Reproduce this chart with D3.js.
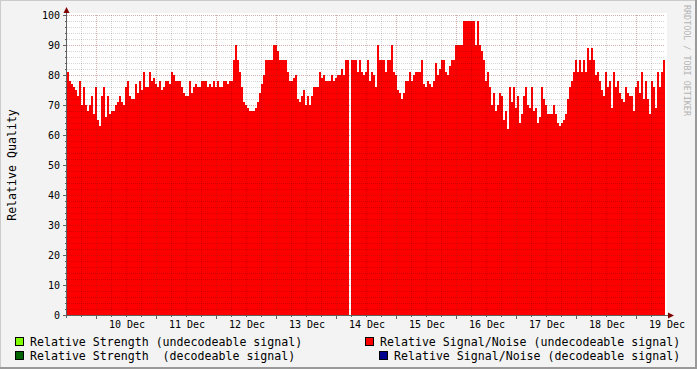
<!DOCTYPE html>
<html>
<head>
<meta charset="utf-8">
<script src="https://cdn.jsdelivr.net/npm/d3@7"></script>
<style>
  body { margin: 0; background: #f3f3f3; }
  text { font-family: "DejaVu Sans Mono", monospace; white-space: pre; }
</style>
</head>
<body>
<svg id="chart" width="697" height="369"></svg>
<script>
// relative S/N (undecodeable), one value every 48 minutes, null = no data
const snUndecodeable = [
  81,78,77,76,75,73,78,70,76,70,
  68,70,73,67,76,65,63,73,76,66,
  73,67,68,68,70,71,73,71,70,76,
  78,73,72,72,77,74,78,75,81,76,
  76,81,78,79,77,76,78,75,76,78,
  78,77,81,80,78,78,78,76,74,73,
  73,78,74,76,77,76,76,78,78,78,
  76,77,76,78,76,78,76,76,78,78,
  77,78,78,85,90,85,81,76,71,70,
  69,68,68,68,69,71,74,77,80,85,
  85,85,85,90,90,88,85,85,85,85,
  81,78,78,79,80,72,71,73,75,70,
  73,70,73,76,76,76,81,79,80,78,
  78,78,80,78,79,80,80,82,80,85,
  85,null,85,85,85,81,85,81,80,81,
  85,78,81,80,76,90,85,85,85,81,
  85,85,90,81,80,75,74,72,74,78,
  78,81,78,80,81,81,81,85,77,76,
  78,77,76,78,84,80,82,85,85,81,
  80,83,85,85,90,90,90,90,98,98,
  98,98,98,98,90,98,90,88,85,78,
  81,76,70,74,68,70,74,73,65,68,
  62,76,71,76,69,73,64,67,73,76,
  70,69,76,68,69,64,66,76,72,70,
  67,67,67,70,67,64,63,64,65,67,
  72,76,78,81,85,81,85,81,85,81,
  89,85,89,85,80,81,78,75,73,81,
  76,78,69,81,76,78,74,72,71,76,
  74,73,73,68,76,78,74,81,72,78,
  72,67,78,76,69,81,76,81,85
];
const startTime = Date.UTC(2008, 11, 9, 12, 24);
const stepMs = 48 * 60 * 1000;

const yTicks = [0, 10, 20, 30, 40, 50, 60, 70, 80, 90, 100];
const dayTicks = ["2008-12-10", "2008-12-11", "2008-12-12", "2008-12-13", "2008-12-14",
                  "2008-12-15", "2008-12-16", "2008-12-17", "2008-12-18", "2008-12-19"];

const legendLeft = [
  { name: "Relative Strength (undecodeable signal)", color: "#80ff00" },
  { name: "Relative Strength  (decodeable signal)", color: "#006400" }
];
const legendRight = [
  { name: "Relative Signal/Noise (undecodeable signal)", color: "#ff0000" },
  { name: "Relative Signal/Noise (decodeable signal)", color: "#000090" }
];

const W = 697, H = 369;
const pLeft = 67, pRight = 665, pTop = 15, pBottom = 315;

const svg = d3.select("#chart");

// frame
svg.append("rect").attr("width", W).attr("height", H).attr("fill", "#f3f3f3");
svg.append("path").attr("d", `M0,${H} V0 H${W}`).attr("stroke", "#cbcbcb").attr("stroke-width", 2).attr("fill", "none");
svg.append("path").attr("d", `M0,${H - 1} H${W - 1} V0`).attr("stroke", "#999").attr("stroke-width", 2).attr("fill", "none");

const endTime = startTime + snUndecodeable.length * stepMs;
const x = d3.scaleUtc().domain([startTime, endTime]).range([pLeft, pRight]);
const y = d3.scaleLinear().domain([0, 100]).range([pBottom, pTop]);

// canvas
svg.append("rect").attr("x", pLeft).attr("y", pTop - 2).attr("width", pRight - pLeft + 2).attr("height", pBottom - pTop + 2)
  .attr("fill", "#fff");

// bars
const pts = snUndecodeable.map((v, i) => ({ t: startTime + i * stepMs, v }));
svg.append("g").attr("shape-rendering", "crispEdges")
  .selectAll("rect").data(pts.filter(d => d.v != null)).join("rect")
  .attr("x", d => x(d.t))
  .attr("width", d => x(d.t + stepMs) - x(d.t))
  .attr("y", d => y(d.v))
  .attr("height", d => y(0) - y(d.v))
  .attr("fill", "#ff0000");

// grid on top
const grid = svg.append("g").attr("shape-rendering", "crispEdges").attr("stroke-dasharray", "1,1");
const minorY = d3.range(0, 101, 2).filter(v => v % 10 !== 0);
grid.selectAll(".hmin").data(minorY).join("line")
  .attr("x1", pLeft).attr("x2", pRight).attr("y1", d => y(d) + 0.5).attr("y2", d => y(d) + 0.5)
  .attr("stroke", "rgba(0,0,0,0.16)");
const sixHours = d3.utcHour.every(6).range(new Date(startTime), new Date(endTime))
  .filter(d => d.getUTCHours() !== 0);
grid.selectAll(".vmin").data(sixHours).join("line")
  .attr("x1", d => Math.round(x(d)) + 0.5).attr("x2", d => Math.round(x(d)) + 0.5)
  .attr("y1", pTop).attr("y2", pBottom)
  .attr("stroke", "rgba(0,0,0,0.16)");
grid.selectAll(".hmaj").data(yTicks.slice(1)).join("line")
  .attr("x1", pLeft).attr("x2", pRight).attr("y1", d => y(d) + 0.5).attr("y2", d => y(d) + 0.5)
  .attr("stroke", "rgba(130,30,30,0.35)");
const days = dayTicks.map(s => new Date(s + "T00:00:00Z"));
grid.selectAll(".vmaj").data(days).join("line")
  .attr("x1", d => Math.round(x(d)) + 0.5).attr("x2", d => Math.round(x(d)) + 0.5)
  .attr("y1", pTop).attr("y2", pBottom)
  .attr("stroke", "rgba(130,30,30,0.35)");

// axes
const ax = svg.append("g").attr("shape-rendering", "crispEdges").attr("stroke", "#606060");
ax.append("line").attr("x1", pLeft - 0.5).attr("x2", pLeft - 0.5).attr("y1", pBottom + 3).attr("y2", pTop - 4);
ax.append("line").attr("x1", pLeft - 4).attr("x2", pRight + 4).attr("y1", pBottom + 0.5).attr("y2", pBottom + 0.5);
ax.selectAll(".yt").data(yTicks).join("line")
  .attr("x1", pLeft - 4).attr("x2", pLeft).attr("y1", d => y(d) + 0.5).attr("y2", d => y(d) + 0.5);
ax.selectAll(".yt2").data(minorY).join("line")
  .attr("x1", pLeft - 2).attr("x2", pLeft).attr("y1", d => y(d) + 0.5).attr("y2", d => y(d) + 0.5);
ax.selectAll(".xt").data(days).join("line")
  .attr("x1", d => Math.round(x(d)) + 0.5).attr("x2", d => Math.round(x(d)) + 0.5)
  .attr("y1", pBottom).attr("y2", pBottom + 4);
ax.selectAll(".xt2").data(sixHours).join("line")
  .attr("x1", d => Math.round(x(d)) + 0.5).attr("x2", d => Math.round(x(d)) + 0.5)
  .attr("y1", pBottom).attr("y2", pBottom + 2);

// arrows
svg.append("path").attr("d", `M${pLeft - 3.5},${pTop - 2} L${pLeft - 0.5},${pTop - 8} L${pLeft + 2.5},${pTop - 2} Z`).attr("fill", "#800000");
svg.append("path").attr("d", `M${pRight + 3},${pBottom - 2.5} L${pRight + 9},${pBottom + 0.5} L${pRight + 3},${pBottom + 3.5} Z`).attr("fill", "#800000");

// tick labels
svg.append("g").selectAll("text").data(yTicks).join("text")
  .attr("x", 60).attr("y", d => y(d) + 4)
  .attr("text-anchor", "end").attr("font-size", 10).attr("fill", "#000")
  .text(d => d);
const fmt = d3.utcFormat("%d %b");
svg.append("g").selectAll("text").data(days).join("text")
  .attr("x", d => x(d3.utcHour.offset(d, 12)) + 1).attr("y", 328)
  .attr("text-anchor", "middle").attr("font-size", 10).attr("fill", "#000")
  .text(d => fmt(d));

// titles
svg.append("text").attr("transform", "translate(16,165) rotate(-90)")
  .attr("text-anchor", "middle").attr("font-size", 11.6).text("Relative Quality");
svg.append("text").attr("transform", "translate(684,5) rotate(90)")
  .attr("font-size", 8.4).attr("fill", "#b4b4b4").text("RRDTOOL / TOBI OETIKER");

// legend
const leg = svg.append("g").attr("font-size", 11.6);
legendLeft.forEach((d, i) => {
  leg.append("rect").attr("x", 15.5).attr("y", 337.5 + i * 14).attr("width", 8).attr("height", 8)
    .attr("fill", d.color).attr("stroke", "#000");
  leg.append("text").attr("x", 30).attr("y", 345.5 + i * 14).text(d.name);
});
legendRight.forEach((d, i) => {
  const tx = 681 - d.name.length * 7;
  leg.append("rect").attr("x", tx - 14.5).attr("y", 337.5 + i * 14).attr("width", 8).attr("height", 8)
    .attr("fill", d.color).attr("stroke", "#000");
  leg.append("text").attr("x", tx).attr("y", 345.5 + i * 14).text(d.name);
});
</script>
</body>
</html>
